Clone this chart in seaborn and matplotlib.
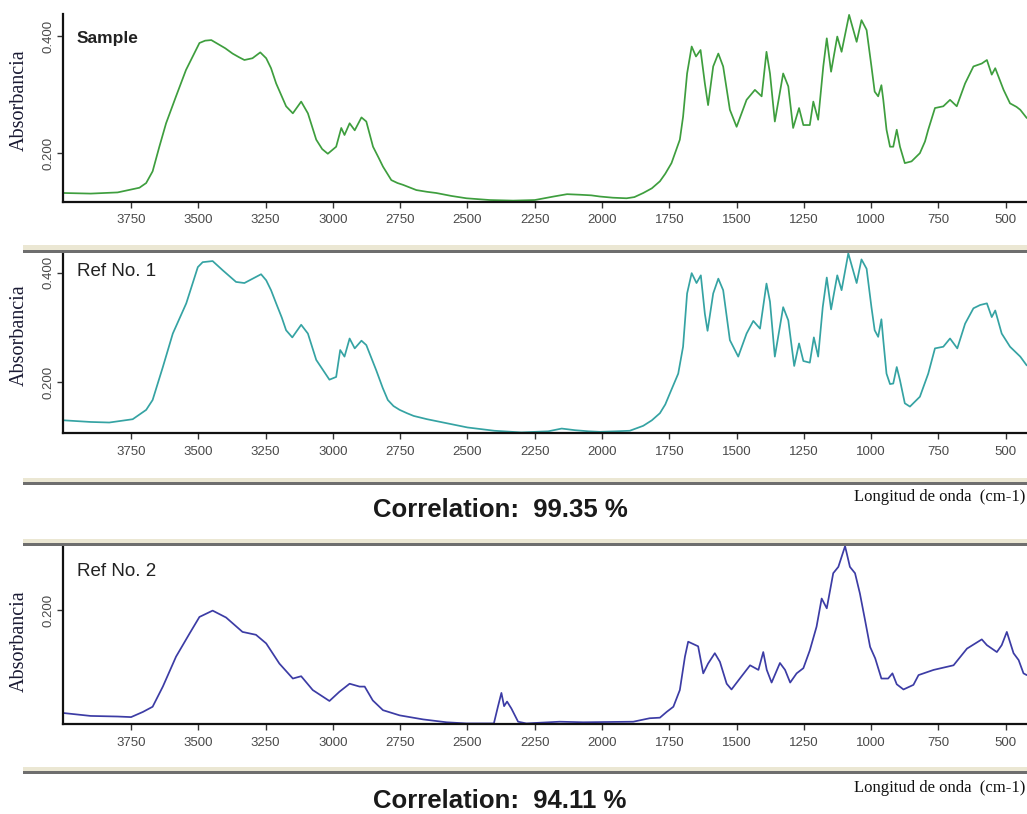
import matplotlib
matplotlib.use('Agg')
import matplotlib.pyplot as plt
import seaborn as sns
from matplotlib.patches import Rectangle
from matplotlib.ticker import FormatStrFormatter

# ---- values (wavenumber cm-1, absorbance) ----
sample_wn = [4000, 3900, 3800, 3719, 3694, 3670, 3645, 3620, 3583, 3546, 3496, 3475, 3452, 3422, 3400,
             3373, 3350, 3329, 3299, 3270, 3248, 3230, 3211, 3190, 3174, 3149, 3118, 3093, 3062, 3040,
             3019, 2988, 2969, 2957, 2938, 2919, 2894, 2876, 2851, 2830, 2814, 2783, 2760, 2740, 2690,
             2650, 2616, 2560, 2504, 2417, 2330, 2250, 2180, 2130, 2080, 2040, 2008, 1960, 1909, 1880,
             1847, 1815, 1785, 1765, 1742, 1711, 1699, 1684, 1667, 1651, 1634, 1618, 1606, 1587, 1568,
             1550, 1525, 1500, 1463, 1432, 1407, 1389, 1376, 1358, 1327, 1308, 1290, 1268, 1252, 1228,
             1215, 1197, 1178, 1165, 1149, 1126, 1110, 1082, 1054, 1036, 1017, 999, 987, 974, 962, 955,
             943, 930, 918, 905, 893, 875, 850, 819, 800, 788, 763, 732, 707, 682, 651, 620, 589, 570,
             552, 539, 508, 484, 460, 446, 422]
sample_abs = [0.132, 0.131, 0.133, 0.141, 0.149, 0.169, 0.211, 0.251, 0.297, 0.342, 0.388, 0.392, 0.393, 0.385, 0.379,
              0.370, 0.364, 0.359, 0.362, 0.372, 0.362, 0.345, 0.319, 0.297, 0.280, 0.268, 0.288, 0.268, 0.223, 0.207,
              0.199, 0.211, 0.243, 0.231, 0.251, 0.239, 0.261, 0.254, 0.211, 0.192, 0.177, 0.154, 0.149, 0.146, 0.137,
              0.134, 0.132, 0.127, 0.123, 0.120, 0.119, 0.120, 0.126, 0.130, 0.129, 0.128, 0.126, 0.124, 0.123, 0.125,
              0.132, 0.140, 0.152, 0.165, 0.183, 0.223, 0.262, 0.336, 0.382, 0.365, 0.376, 0.319, 0.282, 0.348, 0.370,
              0.348, 0.274, 0.245, 0.291, 0.308, 0.297, 0.373, 0.336, 0.254, 0.336, 0.314, 0.243, 0.277, 0.248, 0.248,
              0.288, 0.257, 0.348, 0.396, 0.339, 0.399, 0.373, 0.436, 0.390, 0.427, 0.410, 0.348, 0.305, 0.297, 0.316, 0.291,
              0.240, 0.211, 0.211, 0.240, 0.211, 0.183, 0.186, 0.200, 0.220, 0.240, 0.277, 0.280, 0.291, 0.280, 0.319, 0.348, 0.353, 0.359,
              0.334, 0.345, 0.308, 0.285, 0.279, 0.274, 0.260]

ref1_wn = [4000, 3900, 3831, 3744, 3694, 3670, 3632, 3595, 3545, 3502, 3484, 3447, 3409, 3360,
           3329, 3298, 3267, 3248, 3230, 3211, 3190, 3174, 3151, 3118, 3093, 3062, 3013, 2988, 2973,
           2957, 2938, 2919, 2894, 2876, 2839, 2815, 2796, 2775, 2752, 2725, 2700, 2650, 2600, 2550,
           2500, 2450, 2400, 2300, 2200, 2150, 2100, 2050, 2008, 1950, 1897, 1847, 1815, 1785, 1765,
           1748, 1717, 1699, 1684, 1667, 1649, 1633, 1618, 1608, 1587, 1568, 1550, 1525, 1494, 1463,
           1438, 1413, 1389, 1376, 1358, 1327, 1308, 1286, 1268, 1252, 1228, 1213, 1197, 1180, 1165,
           1149, 1126, 1110, 1085, 1054, 1036, 1017, 999, 987, 974, 962, 955, 943, 930, 918, 905, 893,
           875, 856, 819, 788, 763, 732, 707, 680, 651, 620, 595, 570, 552, 539, 515, 484, 446, 422]
ref1_abs = [0.131, 0.128, 0.127, 0.133, 0.150, 0.168, 0.228, 0.289, 0.344, 0.410, 0.419, 0.421, 0.404, 0.383,
            0.381, 0.389, 0.397, 0.386, 0.368, 0.344, 0.318, 0.295, 0.282, 0.305, 0.289, 0.241, 0.205, 0.210, 0.259,
            0.247, 0.280, 0.262, 0.276, 0.268, 0.222, 0.190, 0.168, 0.157, 0.150, 0.144, 0.139, 0.133, 0.128, 0.123,
            0.118, 0.115, 0.112, 0.109, 0.111, 0.116, 0.113, 0.111, 0.110, 0.111, 0.112, 0.121, 0.131, 0.144, 0.160,
            0.180, 0.216, 0.265, 0.362, 0.399, 0.381, 0.395, 0.325, 0.294, 0.362, 0.389, 0.368, 0.277, 0.247, 0.289,
            0.312, 0.298, 0.380, 0.347, 0.247, 0.337, 0.313, 0.230, 0.271, 0.239, 0.236, 0.282, 0.247, 0.337, 0.391,
            0.333, 0.395, 0.368, 0.435, 0.381, 0.424, 0.407, 0.337, 0.295, 0.283, 0.315, 0.277, 0.216, 0.197, 0.198, 0.228, 0.204,
            0.162, 0.156, 0.174, 0.216, 0.262, 0.265, 0.280, 0.262, 0.307, 0.335, 0.341, 0.344, 0.319, 0.331, 0.289, 0.265, 0.247, 0.231]

ref2_wn = [4000, 3900, 3800, 3750, 3706, 3670, 3632, 3583, 3533, 3496, 3447, 3397, 3336, 3286,
           3248, 3199, 3149, 3118, 3075, 3013, 2976, 2938, 2901, 2882, 2852, 2814, 2752, 2665,
           2578, 2504, 2402, 2387, 2374, 2364, 2353, 2337, 2312, 2281, 2157, 2070, 1884, 1823,
           1785, 1760, 1735, 1711, 1692, 1680, 1643, 1624, 1606, 1581, 1562, 1537, 1519, 1488,
           1450, 1419, 1401, 1388, 1370, 1339, 1320, 1301, 1277, 1252, 1228, 1203, 1184, 1165,
           1141, 1122, 1097, 1079, 1060, 1042, 1023, 1004, 985, 962, 937, 921, 905, 880, 843,
           824, 768, 694, 644, 589, 570, 533, 515, 496, 471, 452, 434, 422]
ref2_abs = [0.021, 0.016, 0.015, 0.014, 0.023, 0.032, 0.067, 0.119, 0.159, 0.188, 0.199, 0.187, 0.162, 0.157,
            0.142, 0.107, 0.081, 0.085, 0.061, 0.042, 0.058, 0.072, 0.067, 0.067, 0.043, 0.026, 0.017, 0.010,
            0.005, 0.003, 0.003, 0.032, 0.056, 0.033, 0.041, 0.029, 0.006, 0.003, 0.006, 0.005, 0.006, 0.012,
            0.013, 0.023, 0.032, 0.061, 0.119, 0.145, 0.137, 0.090, 0.107, 0.125, 0.110, 0.072, 0.062, 0.081,
            0.104, 0.096, 0.127, 0.096, 0.074, 0.108, 0.096, 0.074, 0.090, 0.099, 0.130, 0.171, 0.220, 0.203,
            0.264, 0.275, 0.311, 0.275, 0.264, 0.229, 0.183, 0.136, 0.116, 0.081, 0.081, 0.090, 0.071, 0.062, 0.070,
            0.087, 0.096, 0.104, 0.133, 0.149, 0.139, 0.127, 0.139, 0.162, 0.125, 0.113, 0.090, 0.087]

x_ticks = [3750, 3500, 3250, 3000, 2750, 2500, 2250, 2000, 1750, 1500, 1250, 1000, 750, 500]
panel_names = ['Sample', 'Ref No. 1', 'Ref No. 2']
correlations = ['99.35', '94.11']

sns.set_style('white')
plt.rcParams['font.family'] = ['Liberation Sans', 'DejaVu Sans']

W, H = 1027, 814
fig = plt.figure(figsize=(W / 100, H / 100), dpi=100)


def fx(px):
    return px / W


def fy(py):
    return 1 - py / H


# top px, bottom px, ylim, yticks, colour, data, label y px, label bold
panels = [
    (14, 201.5, (0.1175, 0.4375), [0.2, 0.4], '#3e9e3e', sample_wn, sample_abs, 38.5, True),
    (252, 433.5, (0.107, 0.4375), [0.2, 0.4], '#35a3a3', ref1_wn, ref1_abs, 272, False),
    (545, 724, (0.002, 0.313), [0.2], '#3c3ca5', ref2_wn, ref2_abs, 571, False),
]
ylabel_y = [100, 335, 641]

for i, (top, bot, ylim, yt, col, wn, ab, lab_y, bold) in enumerate(panels):
    ax = fig.add_axes([fx(63), fy(bot), fx(1027 - 63), (bot - top) / H])
    sns.lineplot(x=wn, y=ab, sort=False, estimator=None, ax=ax, color=col, linewidth=1.25)
    ax.set_xlim(4003, 421)
    ax.set_ylim(*ylim)
    ax.set_xticks(x_ticks)
    ax.set_yticks(yt)
    ax.yaxis.set_major_formatter(FormatStrFormatter('%.3f'))
    ax.set_xlabel('')
    ax.set_ylabel('')
    for s in ['top', 'right']:
        ax.spines[s].set_visible(False)
    for s in ['left', 'bottom']:
        ax.spines[s].set_linewidth(1.6)
        ax.spines[s].set_color('#111111')
    ax.tick_params(axis='x', direction='out', length=4, width=1, color='#333333',
                   labelsize=9.5, labelcolor='#4a4a4a', pad=5, bottom=True)
    ax.tick_params(axis='y', direction='out', length=4, width=1, color='#333333',
                   labelsize=9.5, labelcolor='#4a4a4a', pad=2, left=True)
    plt.setp(ax.get_yticklabels(), rotation=90, va='center')
    ax.patch.set_alpha(0)

    fig.text(fx(77), fy(lab_y), panel_names[i], ha='left', va='center',
             fontsize=12.5 if bold else 13.5, fontweight='bold' if bold else 'normal',
             color='#222222')
    fig.text(fx(19), fy(ylabel_y[i]), 'Absorbancia', rotation=90, ha='center', va='center',
             fontsize=14.5, family=['Liberation Serif'], color='#1a1a33')

# grey / beige separator bars
for beige_top in [245.5, 478, 539, 767]:
    fig.add_artist(Rectangle((fx(23), fy(beige_top + 4)), fx(1027 - 23), 4 / H,
                             transform=fig.transFigure, color='#ebe7d3', lw=0))
    fig.add_artist(Rectangle((fx(23), fy(beige_top + 7)), fx(1027 - 23), 3 / H,
                             transform=fig.transFigure, color='#6e6e6e', lw=0))

for corr, ty, ly in [(correlations[0], 510, 497), (correlations[1], 801, 788)]:
    fig.text(fx(1025), fy(ly), 'Longitud de onda  (cm-1)', ha='right', va='center',
             fontsize=12, family=['Liberation Serif'], color='#111111')
    fig.text(fx(500), fy(ty), f'Correlation:  {corr} %', ha='center', va='center',
             fontsize=18.5, fontweight='bold', color='#1a1a1a')

fig.savefig('out.png', dpi=100)
